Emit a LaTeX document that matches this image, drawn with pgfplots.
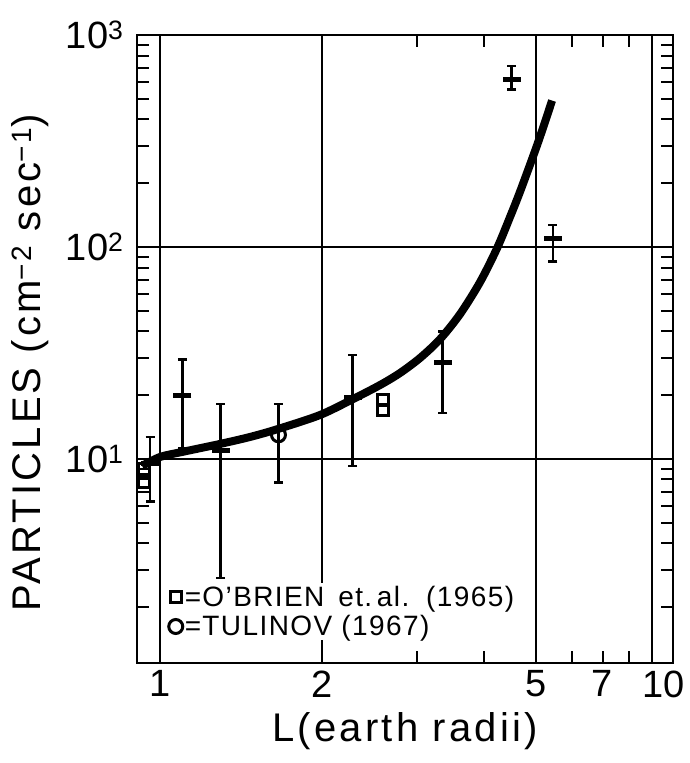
\documentclass[border=0pt]{standalone}
\usepackage{fontspec}
\setmainfont{Liberation Sans}
\usepackage{pgfplots}
\pgfplotsset{compat=1.18}
\begin{document}
\begin{tikzpicture}[x=1pt,y=1pt]
\path[use as bounding box] (-137,-100) rectangle (552,663);
\begin{axis}[
  at={(0pt,0pt)}, anchor=south west,
  scale only axis, width=536pt, height=628pt,
  x coord trafo/.code={%
    \pgfmathsetmacro\myLu{log10(#1)}%
    \pgfmathparse{\myLu>0.69897 ? 0.69897+0.845*(\myLu-0.69897) : \myLu}%
  },
  xmin=0.906, xmax=10,
  ymode=log, ymin=1.09, ymax=1000,
  xtick={1,2,5,9}, xticklabels={1,2,5,{}},
  extra x ticks={7,10}, extra x tick labels={7,\hspace*{-18pt}10},
  extra x tick style={grid=none, major tick length=0pt},
  minor xtick={3,4,6,7,8},
  ytick={10,100,1000},
  yticklabels={10\textsuperscript{1},10\textsuperscript{2},10\textsuperscript{3}},
  minor ytick={2,3,...,9,20,30,...,90,200,300,...,900},
  grid=major,
  major grid style={black, line width=2.2pt},
  axis line style={black, line width=2.8pt},
  tick align=inside,
  major tick length=0pt, minor tick length=12pt,
  every tick/.style={black, line width=2pt},
  xtick pos=both, ytick pos=both,
  ticklabel style={font=\fontsize{38}{40}\selectfont},
  xticklabel style={yshift=-4pt},
  yticklabel style={xshift=-10pt},
  xlabel={L(earth radii)},
  ylabel={PARTICLES (cm\textsuperscript{−2} sec\textsuperscript{−1})},
  label style={font=\addfontfeatures{LetterSpace=8}\fontsize{40}{42}\selectfont},
  xlabel style={yshift=-8pt},
  ylabel style={yshift=10pt, xshift=-14pt},
  legend style={at={(0.057,0.128)}, anchor=north west, draw=none, fill=white,
    font=\addfontfeatures{LetterSpace=5}\fontsize{28}{30}\selectfont,
    row sep=4pt, inner sep=1pt},
  legend cell align=left,
]
% fitted curve
\addplot[black, line width=8pt, smooth, forget plot] coordinates {
  (0.926,9.27) (1.0,10.22) (1.099,10.79) (1.2925,11.77) (1.470,12.70)
  (1.657,13.85) (1.983,16.12) (2.285,19.19) (2.565,22.34) (2.793,25.45)
  (3.043,29.96) (3.316,36.81) (3.612,48.3) (3.935,68.4) (4.232,98.9)
  (4.473,138.8) (4.670,183.1) (4.978,284.4) (5.18,365.8) (5.42,490.5)
};
% data with error bars
\addplot[black, only marks, mark=-, mark size=9pt, mark options={line width=5pt},
  forget plot,
  error bars/.cd, y dir=both, y explicit,
  error bar style={line width=2.4pt},
  error mark options={rotate=90, mark size=4.5pt, line width=2.6pt}]
  table[x=L, y=y, y error plus=ep, y error minus=em] {
  L     y     ep     em
  0.958 9.5   3.2    3.2
  1.10  19.9  9.6    8.7
  1.296 11.0  7.2    8.26
  2.28  19.4  11.6   10.13
  3.35  28.5  11.5   12.0
  4.50  614   100    59
  5.44  110   17     24.7
};
% O'Brien et al. (1965)
\addplot[black, only marks, mark=square, mark size=5.5pt, mark options={line width=3pt, fill=white}]
  coordinates {(2.60,18.9) (2.60,17.0) (0.935,9.0) (0.935,7.8)};
\addlegendentry{=O’BRIEN\, et.\,al.\, (1965)}
% Tulinov (1967)
\addplot[black, only marks, mark=o, mark size=7pt, mark options={line width=3pt, fill=white},
  error bars/.cd, y dir=both, y explicit,
  error bar style={line width=2.4pt},
  error mark options={rotate=90, mark size=4.5pt, line width=2.6pt}]
  table[x=L, y=y, y error plus=ep, y error minus=em] {
  L     y     ep     em
  1.66  13.0  5.2    5.27
};
\addlegendentry{=TULINOV (1967)}
\end{axis}
\end{tikzpicture}
\end{document}
